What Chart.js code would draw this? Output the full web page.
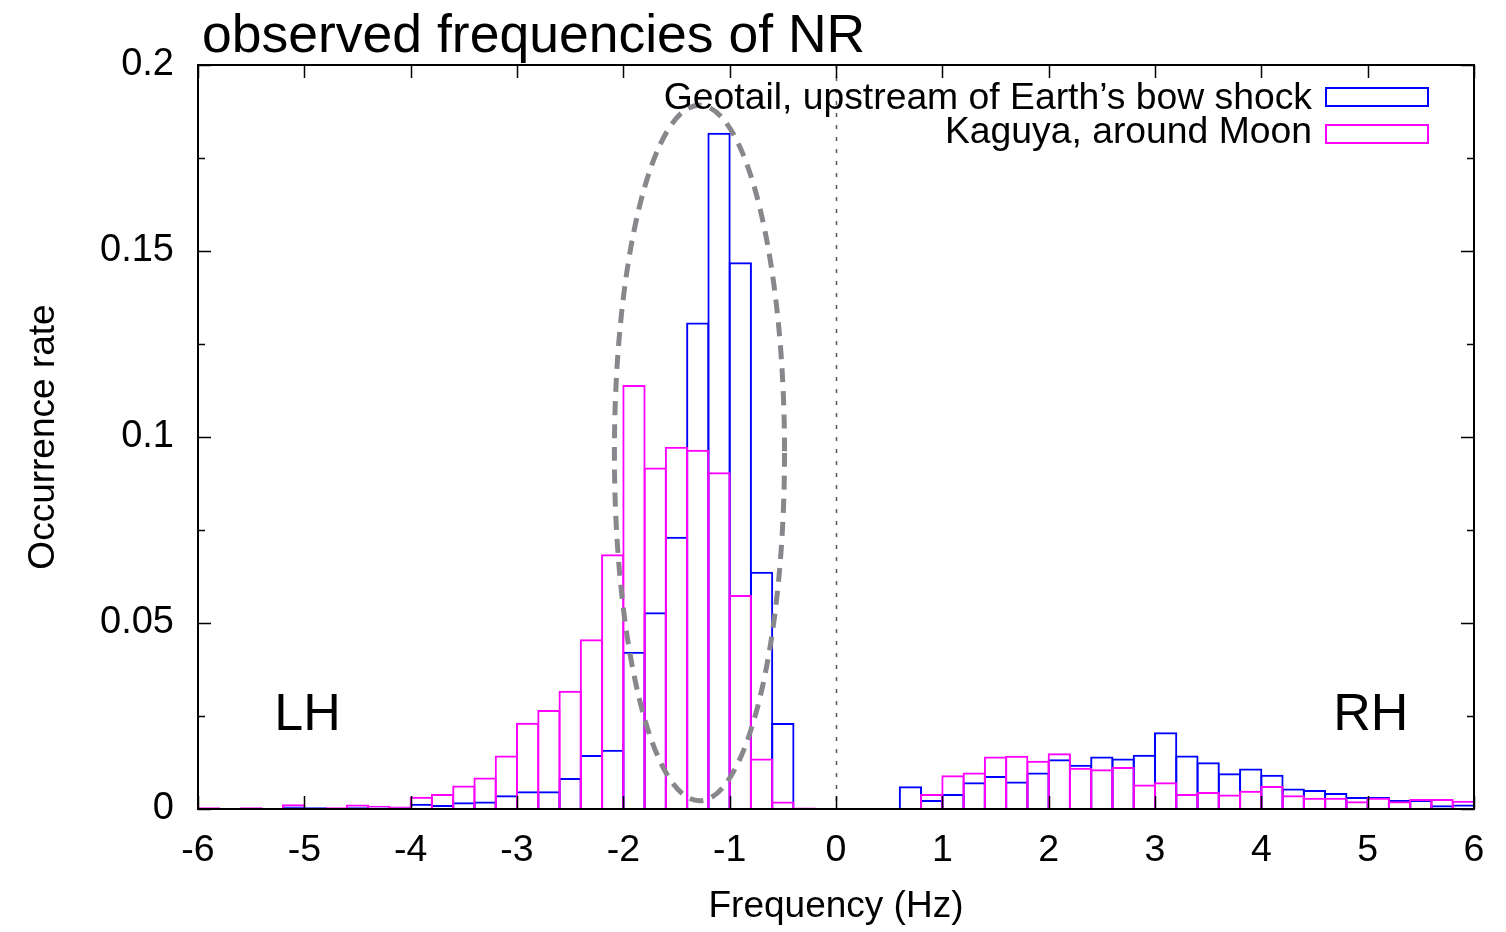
<!DOCTYPE html>
<html>
<head>
<meta charset="utf-8">
<title>observed frequencies of NR</title>
<script src="https://cdn.jsdelivr.net/npm/chart.js@4/dist/chart.umd.min.js"></script>
<style>
  html, body { margin: 0; padding: 0; background: #ffffff; overflow: hidden; }
  canvas { display: block; }
</style>
</head>
<body>
<canvas id="chart" width="1506" height="932"></canvas>
<script>
// Histogram bins: centres of the 0.2 Hz wide bins from -6 Hz to +6 Hz
const binCenters = [
  -5.9, -5.7, -5.5, -5.3, -5.1, -4.9, -4.7, -4.5, -4.3, -4.1,
  -3.9, -3.7, -3.5, -3.3, -3.1, -2.9, -2.7, -2.5, -2.3, -2.1,
  -1.9, -1.7, -1.5, -1.3, -1.1, -0.9, -0.7, -0.5, -0.3, -0.1,
   0.1,  0.3,  0.5,  0.7,  0.9,  1.1,  1.3,  1.5,  1.7,  1.9,
   2.1,  2.3,  2.5,  2.7,  2.9,  3.1,  3.3,  3.5,  3.7,  3.9,
   4.1,  4.3,  4.5,  4.7,  4.9,  5.1,  5.3,  5.5,  5.7,  5.9
];

// Geotail, upstream of Earth's bow shock
const geotail = [
  0, 0, 0, 0, 0.0007, 0.0005, 0.0003, 0.0005, 0.0004, 0.0004,
  0.0014, 0.0011, 0.0018, 0.0020, 0.0037, 0.0048, 0.0048, 0.0083, 0.0145, 0.0159,
  0.0423, 0.0529, 0.0732, 0.1308, 0.1818, 0.1470, 0.0638, 0.0231, 0, 0,
  0, 0, 0, 0.0061, 0.0024, 0.0040, 0.0072, 0.0089, 0.0074, 0.0098,
  0.0134, 0.0119, 0.0141, 0.0136, 0.0146, 0.0206, 0.0144, 0.0126, 0.0096, 0.0109,
  0.0092, 0.0055, 0.0051, 0.0043, 0.0032, 0.0032, 0.0024, 0.0024, 0.0010, 0.0012
];

// Kaguya, around Moon
const kaguya = [
  0.0005, 0, 0.0005, 0, 0.0013, 0, 0.0005, 0.0012, 0.0009, 0.0007,
  0.0033, 0.0040, 0.0063, 0.0085, 0.0144, 0.0232, 0.0266, 0.0318, 0.0456, 0.0685,
  0.1140, 0.0918, 0.0974, 0.0966, 0.0905, 0.0575, 0.0136, 0.0020, 0.0004, 0,
  0, 0, 0, 0, 0.0040, 0.0091, 0.0098, 0.0141, 0.0143, 0.0130,
  0.0150, 0.0111, 0.0107, 0.0113, 0.0066, 0.0072, 0.0040, 0.0046, 0.0039, 0.0049,
  0.0062, 0.0037, 0.0030, 0.0030, 0.0021, 0.0030, 0.0021, 0.0027, 0.0027, 0.0022
];

const seriesNames = ['Geotail, upstream of Earth\u2019s bow shock', 'Kaguya, around Moon'];
const seriesColors = ['#0000ff', '#ff00ff'];

const xTickLabels = ['-6', '-5', '-4', '-3', '-2', '-1', '0', '1', '2', '3', '4', '5', '6'];
const yTickLabels = ['0', '0.05', '0.1', '0.15', '0.2'];
const yMinorTicks = [0.025, 0.075, 0.125, 0.175];

// Region annotations
const handLabels = [
  { text: 'LH', x: -4.97, y: 0.025 },
  { text: 'RH', x: 5.03, y: 0.025 }
];
// Dashed ellipse around the LH peak (centre and semi-axes in data units)
const peakEllipse = { cx: -1.284, cy: 0.0957, rx: 0.80, ry: 0.0935 };

const FONT = '"Liberation Sans", Arial, Helvetica, sans-serif';

const frameAndDecor = {
  id: 'frameAndDecor',
  beforeDatasetsDraw(chart) {
    const { ctx, chartArea: a, scales: { x } } = chart;
    // dotted zero-frequency line
    ctx.save();
    ctx.strokeStyle = '#555555';
    ctx.lineWidth = 1.5;
    ctx.setLineDash([4, 8]);
    const x0 = Math.round(x.getPixelForValue(0)) + 0.5;
    ctx.beginPath();
    ctx.moveTo(x0, a.top);
    ctx.lineTo(x0, a.bottom);
    ctx.stroke();
    ctx.restore();
  },
  afterDatasetsDraw(chart) {
    const { ctx, chartArea: a, scales: { x, y } } = chart;
    ctx.save();

    // dashed ellipse
    const ex = x.getPixelForValue(peakEllipse.cx);
    const ey = y.getPixelForValue(peakEllipse.cy);
    const erx = x.getPixelForValue(peakEllipse.cx + peakEllipse.rx) - ex;
    const ery = ey - y.getPixelForValue(peakEllipse.cy + peakEllipse.ry);
    ctx.strokeStyle = '#88888c';
    ctx.lineWidth = 5;
    ctx.setLineDash([14, 9]);
    ctx.beginPath();
    ctx.ellipse(ex, ey, erx, ery, 0, 0, Math.PI * 2);
    ctx.stroke();
    ctx.setLineDash([]);

    // frame
    ctx.strokeStyle = '#000000';
    ctx.lineWidth = 2;
    ctx.strokeRect(a.left, a.top, a.right - a.left, a.bottom - a.top);

    // inward tick marks on all four sides
    ctx.lineWidth = 1.5;
    ctx.beginPath();
    x.ticks.forEach(t => {
      const px = Math.round(x.getPixelForValue(t.value)) + 0.5;
      ctx.moveTo(px, a.bottom); ctx.lineTo(px, a.bottom - 13);
      ctx.moveTo(px, a.top); ctx.lineTo(px, a.top + 13);
    });
    y.ticks.forEach(t => {
      const py = Math.round(y.getPixelForValue(t.value)) + 0.5;
      ctx.moveTo(a.left, py); ctx.lineTo(a.left + 13, py);
      ctx.moveTo(a.right, py); ctx.lineTo(a.right - 13, py);
    });
    yMinorTicks.forEach(v => {
      const py = Math.round(y.getPixelForValue(v)) + 0.5;
      ctx.moveTo(a.left, py); ctx.lineTo(a.left + 7, py);
      ctx.moveTo(a.right, py); ctx.lineTo(a.right - 7, py);
    });
    ctx.stroke();

    // LH / RH labels
    ctx.fillStyle = '#000000';
    ctx.font = '52px ' + FONT;
    ctx.textAlign = 'center';
    ctx.textBaseline = 'middle';
    handLabels.forEach(l => {
      ctx.fillText(l.text, x.getPixelForValue(l.x), y.getPixelForValue(l.y));
    });

    // legend: text right-aligned, sample box to its right
    ctx.font = '37.3px ' + FONT;
    ctx.textAlign = 'right';
    const rows = [{ ty: 99, by: 88 }, { ty: 133, by: 125 }];
    rows.forEach((r, i) => {
      ctx.fillStyle = '#000000';
      ctx.fillText(seriesNames[i], 1312, r.ty);
      ctx.strokeStyle = seriesColors[i];
      ctx.lineWidth = 2;
      ctx.strokeRect(1326, r.by, 102, 18);
    });

    // title
    ctx.font = '53.5px ' + FONT;
    ctx.textAlign = 'left';
    ctx.textBaseline = 'alphabetic';
    ctx.fillText('observed frequencies of NR', 202, 52);
    ctx.restore();
  }
};

const makeData = vals => binCenters.map((c, i) => ({ x: c, y: vals[i] }));

const barStyle = color => ({
  backgroundColor: 'rgba(0,0,0,0)',
  borderColor: color,
  borderWidth: { top: 2, left: 2, right: 2, bottom: 0 },
  borderSkipped: 'start',
  grouped: false,
  barPercentage: 1.094,
  categoryPercentage: 1.0
});

new Chart(document.getElementById('chart'), {
  type: 'bar',
  data: {
    datasets: [
      Object.assign({ label: seriesNames[0], data: makeData(geotail), order: 1 }, barStyle(seriesColors[0])),
      Object.assign({ label: seriesNames[1], data: makeData(kaguya), order: 0 }, barStyle(seriesColors[1]))
    ]
  },
  options: {
    responsive: false,
    devicePixelRatio: 1,
    animation: false,
    events: [],
    layout: { padding: { top: 65, right: 32, left: 0, bottom: 0 } },
    plugins: { legend: { display: false }, tooltip: { enabled: false }, title: { display: false } },
    scales: {
      x: {
        type: 'linear',
        min: -6, max: 6,
        offset: false,
        grid: { display: false, drawTicks: false },
        border: { display: false },
        ticks: {
          stepSize: 1, autoSkip: false, maxRotation: 0, padding: 19,
          color: '#000000', font: { family: FONT, size: 37.5 },
          callback: (v, i) => xTickLabels[i]
        },
        title: {
          display: true, text: 'Frequency (Hz)', color: '#000000',
          font: { family: FONT, size: 37 }, padding: { top: 0, bottom: 3 }
        },
        afterFit: s => { s.height = 123; }
      },
      y: {
        type: 'linear',
        min: 0, max: 0.2,
        grid: { display: false, drawTicks: false },
        border: { display: false },
        ticks: {
          stepSize: 0.05, padding: 24,
          color: '#000000', font: { family: FONT, size: 38 },
          callback: (v, i) => yTickLabels[i]
        },
        title: {
          display: true, text: 'Occurrence rate', color: '#000000',
          font: { family: FONT, size: 37 }, padding: { top: 22, bottom: 0 }
        },
        afterFit: s => { s.width = 198; }
      }
    }
  },
  plugins: [frameAndDecor]
});
</script>
</body>
</html>
